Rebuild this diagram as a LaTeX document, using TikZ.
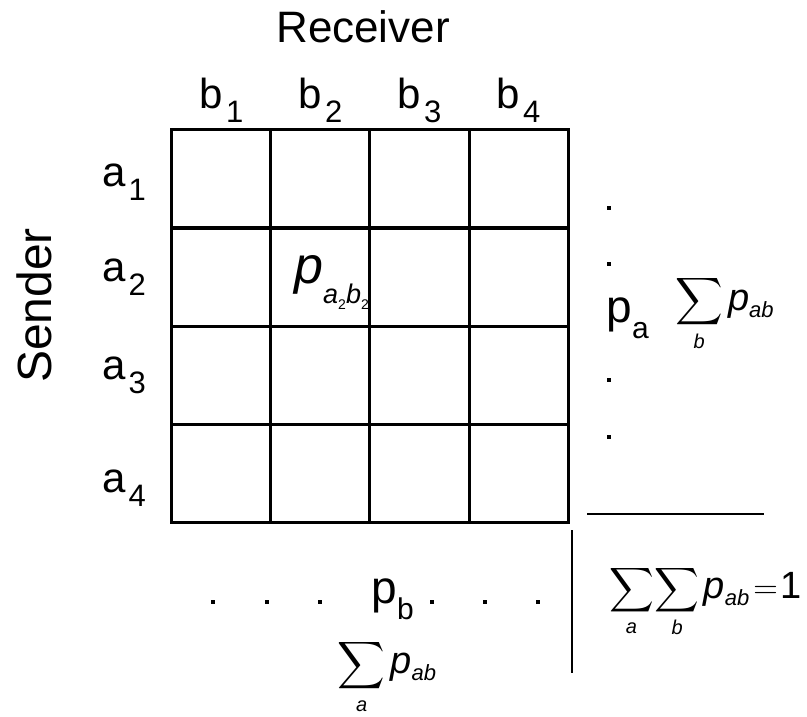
\RequirePackage{fix-cm}
\documentclass[tikz,border=0pt]{standalone}
\usepackage{amsmath}
\usepackage{fontspec}
\setmainfont{Liberation Sans}
\DeclareFontShape{OMX}{cmex}{m}{n}{<->cmex10}{}

\newcommand{\fs}[1]{\fontsize{#1}{#1}\selectfont}
\newcommand{\idx}[2]{#1\kern3pt\raisebox{-14pt}{\fs{31}#2}}
\newcommand{\pab}{{\fs{38}\textit{p}\raisebox{-7pt}{\fs{22}\textit{ab}}}}
\newcommand{\bigsum}[2][33]{{\fs{#1}$\displaystyle\sum_{\mbox{\fs{20}\textit{#2}}}$}}

\begin{document}
\begin{tikzpicture}[x=99pt, y=98pt, line width=3pt,
    lab/.style={inner sep=0pt, anchor=base, font=\fs{42}},
    dotbox/.style={fill, minimum size=3.5pt, inner sep=0pt}]
  \useasboundingbox (-172pt,-194pt) rectangle (635pt,522pt);
  % the 4x4 table
  \draw (0,0) rectangle (4,4);
  \foreach \k in {1,2,3} {
    \draw (\k,0) -- (\k,4);
    \draw (0,\k) -- (4,\k);
  }
  \node[lab] (recv) at (1.93,4.89) {\fs{44}Receiver};
  \node[rotate=90, inner sep=0pt, font=\fs{48}] (sender) at (-1.39,2.21) {Sender};
  \foreach \i in {1,...,4}
    \node[lab] (b\i) at (\i-0.5,4.22) {\idx{b}{\i}};
  \foreach \i/\y in {1/3.42, 2/2.45, 3/1.45, 4/0.30}
    \node[lab, anchor=base east] (a\i) at (-0.25,\y) {\idx{a}{\i}};
  \node[lab, anchor=base west] (pcell) at (1.22,2.43)
    {\fs{52}\textit{p}\raisebox{-20pt}{\fs{27}\textit{a}\raisebox{-6pt}{\fs{14}2}\textit{b}\raisebox{-6pt}{\fs{14}2}}};
  % row sums
  \foreach \y [count=\k] in {3.204, 2.633, 1.449, 0.867}
    \node[dotbox] (r\k) at (4.414,\y) {};
  \node[lab, anchor=base west] (pa) at (4.374,2.04) {\fs{46}p\raisebox{-16pt}{\fs{30}a}};
  \node[lab, anchor=base west] (suma) at (5.07,2.163) {\bigsum{b}\kern5pt\pab};
  % column sums
  \foreach \x [count=\k] in {0.414, 0.960, 1.495, 2.626, 3.162, 3.697}
    \node[dotbox] (c\k) at (\x,-0.816) {};
  \node[lab, anchor=base west] (pb) at (2.0,-0.83) {\fs{46}p\raisebox{-16pt}{\fs{30}b}};
  \node[lab, anchor=base west] (sumb) at (1.66,-1.55) {\bigsum{a}\kern5pt\pab};
  % total
  \draw[line width=1.5pt] (4.192,0.082) -- (5.98,0.082);
  \draw[line width=1.5pt] (4.04,-0.082) -- (4.04,-1.541);
  \node[lab, anchor=base west] (total) at (4.40,-0.776)
    {\bigsum[31]{a}\kern1pt\bigsum[31]{b}\kern4pt\pab\kern4pt{\fs{34}$=$\kern3pt\fs{38}1}};
\end{tikzpicture}
\end{document}
